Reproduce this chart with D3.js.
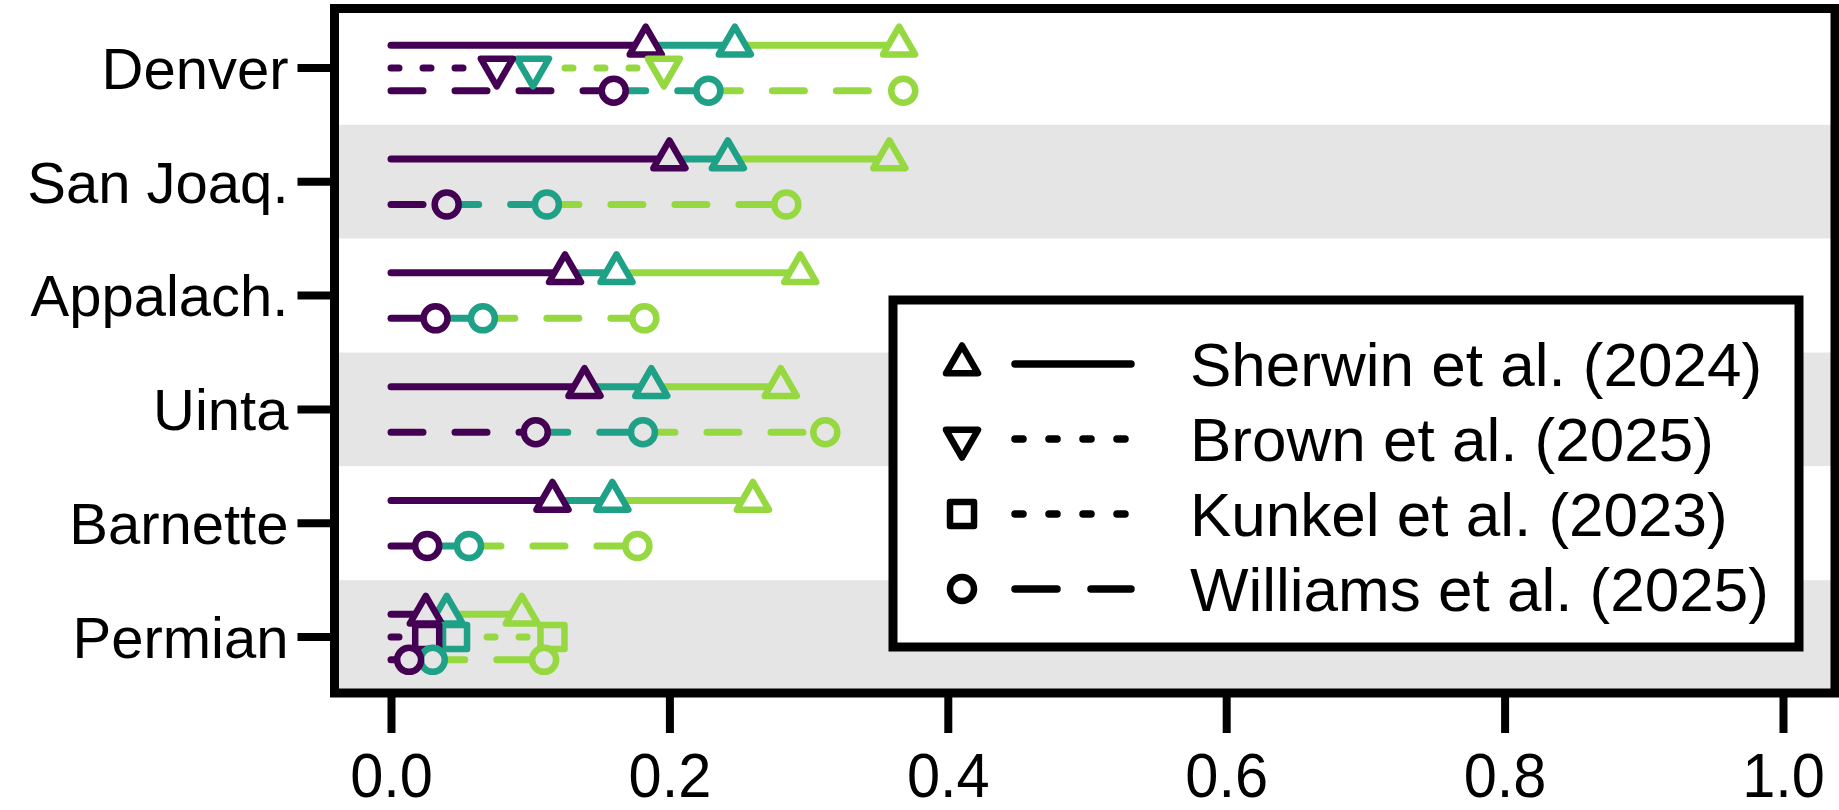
<!DOCTYPE html>
<html>
<head>
<meta charset="utf-8">
<script src="https://cdn.jsdelivr.net/npm/d3@7"></script>
<style>
  html, body { margin: 0; padding: 0; background: #ffffff; }
  svg { display: block; }
  text { font-family: "Liberation Sans", Arial, Helvetica, sans-serif; fill: #000; }
</style>
</head>
<body>
<svg id="chart" width="1839" height="810"></svg>
<script>
// ---------------- data ----------------
const basins = ["Denver", "San Joaq.", "Appalach.", "Uinta", "Barnette", "Permian"];
const studies = ["Sherwin et al. (2024)", "Brown et al. (2025)", "Kunkel et al. (2023)", "Williams et al. (2025)"];
const xTicks = [0.0, 0.2, 0.4, 0.6, 0.8, 1.0];
const xTickLabels = ["0.0", "0.2", "0.4", "0.6", "0.8", "1.0"];
const levelColors = ["#440154", "#1FA187", "#95D840"];   // low, mid, high

// values per basin: [low, mid, high]; null = study has no estimate for that basin
const sherwin  = [[0.183, 0.247, 0.365], [0.200, 0.242, 0.358], [0.125, 0.162, 0.294], [0.139, 0.187, 0.280], [0.116, 0.159, 0.260], [0.025, 0.040, 0.094]];
const brown    = [[0.076, 0.102, 0.196], null, null, null, null, null];
const kunkel   = [null, null, null, null, null, [0.026, 0.046, 0.116]];
const williams = [[0.160, 0.228, 0.368], [0.040, 0.112, 0.284], [0.032, 0.066, 0.182], [0.104, 0.181, 0.312], [0.026, 0.056, 0.177], [0.013, 0.030, 0.110]];

const studyValues = [sherwin, brown, kunkel, williams];
const studyShapes = ["triUp", "triDown", "square", "circle"];
const studyDash   = [null, "8,24", "8,24", "32,32"];
const studyLegendDash = [null, "8,26", "8,26", "42,34"];
const studyRowOffset = [-0.2, 0, 0, 0.2];   // fraction of band height

// ---------------- layout ----------------
const svg = d3.select("#chart");
const frame = { left: 334.5, right: 1835, top: 8.5, bottom: 693 };
const x = d3.scaleLinear().domain([0, 1]).range([391, 1783]);
const y = d3.scaleBand().domain(basins).range([11, 694]).paddingInner(0).paddingOuter(0);
const bw = y.bandwidth();
const bandFill = (i) => (i % 2 === 1 ? "#E5E5E5" : "#FFFFFF");

const LW = 7;

// shape path generator (centered at 0,0)
function shapePath(type) {
  const r = 18.5;
  if (type === "triUp") {
    const h = r * Math.sqrt(3) / 2;
    return `M0,${-r} L${h},${r / 2} L${-h},${r / 2} Z`;
  }
  if (type === "triDown") {
    const h = r * Math.sqrt(3) / 2;
    return `M0,${r} L${h},${-r / 2} L${-h},${-r / 2} Z`;
  }
  if (type === "square") {
    const s = 12;
    return `M${-s},${-s} L${s},${-s} L${s},${s} L${-s},${s} Z`;
  }
  const c = 12;
  return `M${c},0 A${c},${c} 0 1,1 ${-c},0 A${c},${c} 0 1,1 ${c},0 Z`;
}

// ---------------- bands ----------------
svg.append("g").selectAll("rect")
  .data(basins)
  .join("rect")
  .attr("x", frame.left)
  .attr("y", d => y(d))
  .attr("width", frame.right - frame.left)
  .attr("height", bw)
  .attr("fill", (d, i) => bandFill(i));

// ---------------- marks ----------------
const plot = svg.append("g");
basins.forEach((b, bi) => {
  const rows = [];
  studyValues.forEach((vals, si) => {
    if (vals[bi]) rows.push({ si, v: vals[bi], yy: y(b) + bw / 2 + studyRowOffset[si] * bw });
  });
  // line segments: 0 -> low (purple), low -> mid (teal), mid -> high (green)
  rows.forEach(r => {
    const pts = [0, r.v[0], r.v[1], r.v[2]];
    for (let k = 0; k < 3; k++) {
      plot.append("line")
        .attr("x1", x(pts[k])).attr("x2", x(pts[k + 1]))
        .attr("y1", r.yy).attr("y2", r.yy)
        .attr("stroke", levelColors[k])
        .attr("stroke-width", LW)
        .attr("stroke-linecap", "round")
        .attr("stroke-dasharray", studyDash[r.si]);
    }
  });
  // markers: high first, low on top
  rows.forEach(r => {
    for (let k = 2; k >= 0; k--) {
      plot.append("path")
        .attr("d", shapePath(studyShapes[r.si]))
        .attr("transform", `translate(${x(r.v[k])},${r.yy})`)
        .attr("fill", bandFill(bi))
        .attr("stroke", levelColors[k])
        .attr("stroke-width", LW - 0.5)
        .attr("stroke-linejoin", "round");
    }
  });
});

// ---------------- frame ----------------
svg.append("rect")
  .attr("x", frame.left).attr("y", frame.top)
  .attr("width", frame.right - frame.left).attr("height", frame.bottom - frame.top)
  .attr("fill", "none").attr("stroke", "#000").attr("stroke-width", 9);

// ---------------- y axis ----------------
const yAxis = d3.axisLeft(y).tickSize(37).tickPadding(9).tickSizeOuter(0);
const gy = svg.append("g").attr("transform", `translate(${frame.left},0)`).call(yAxis);
gy.select(".domain").remove();
gy.selectAll(".tick line").attr("stroke", "#000").attr("stroke-width", 8);
gy.selectAll(".tick text")
  .attr("font-size", 58)
  .attr("dy", "0.36em")
  .attr("dx", 0)
  .style("font-family", "'Liberation Sans', Arial, sans-serif");

// ---------------- x axis ----------------
const xAxis = d3.axisBottom(x).tickValues(xTicks).tickFormat((d, i) => xTickLabels[i])
  .tickSize(40).tickPadding(20).tickSizeOuter(0);
const gx = svg.append("g").attr("transform", `translate(0,${frame.bottom})`).call(xAxis);
gx.select(".domain").remove();
gx.selectAll(".tick line").attr("stroke", "#000").attr("stroke-width", 8);
gx.selectAll(".tick text")
  .attr("font-size", 62)
  .attr("y", 0).attr("dy", 0)
  .attr("transform", "translate(0,104) scale(0.96,1)")
  .style("font-family", "'Liberation Sans', Arial, sans-serif");

// ---------------- legend ----------------
const leg = { left: 893, right: 1799, top: 300, bottom: 647 };
svg.append("rect")
  .attr("x", leg.left).attr("y", leg.top)
  .attr("width", leg.right - leg.left).attr("height", leg.bottom - leg.top)
  .attr("fill", "#fff").attr("stroke", "#000").attr("stroke-width", 9);

const legY = d3.scalePoint().domain(studies).range([364, 589]);
const lg = svg.append("g");
studies.forEach((s, si) => {
  const yy = legY(s);
  lg.append("line")
    .attr("x1", 1015).attr("x2", 1131).attr("y1", yy).attr("y2", yy)
    .attr("stroke", "#000").attr("stroke-width", LW + 0.5)
    .attr("stroke-linecap", "round")
    .attr("stroke-dasharray", studyLegendDash[si]);
  lg.append("path")
    .attr("d", shapePath(studyShapes[si]))
    .attr("transform", `translate(962,${yy})`)
    .attr("fill", "#fff").attr("stroke", "#000")
    .attr("stroke-width", LW - 0.5).attr("stroke-linejoin", "round");
  lg.append("text")
    .attr("x", 1190).attr("y", yy).attr("dy", "0.36em")
    .attr("font-size", 62)
    .text(s);
});
</script>
</body>
</html>
